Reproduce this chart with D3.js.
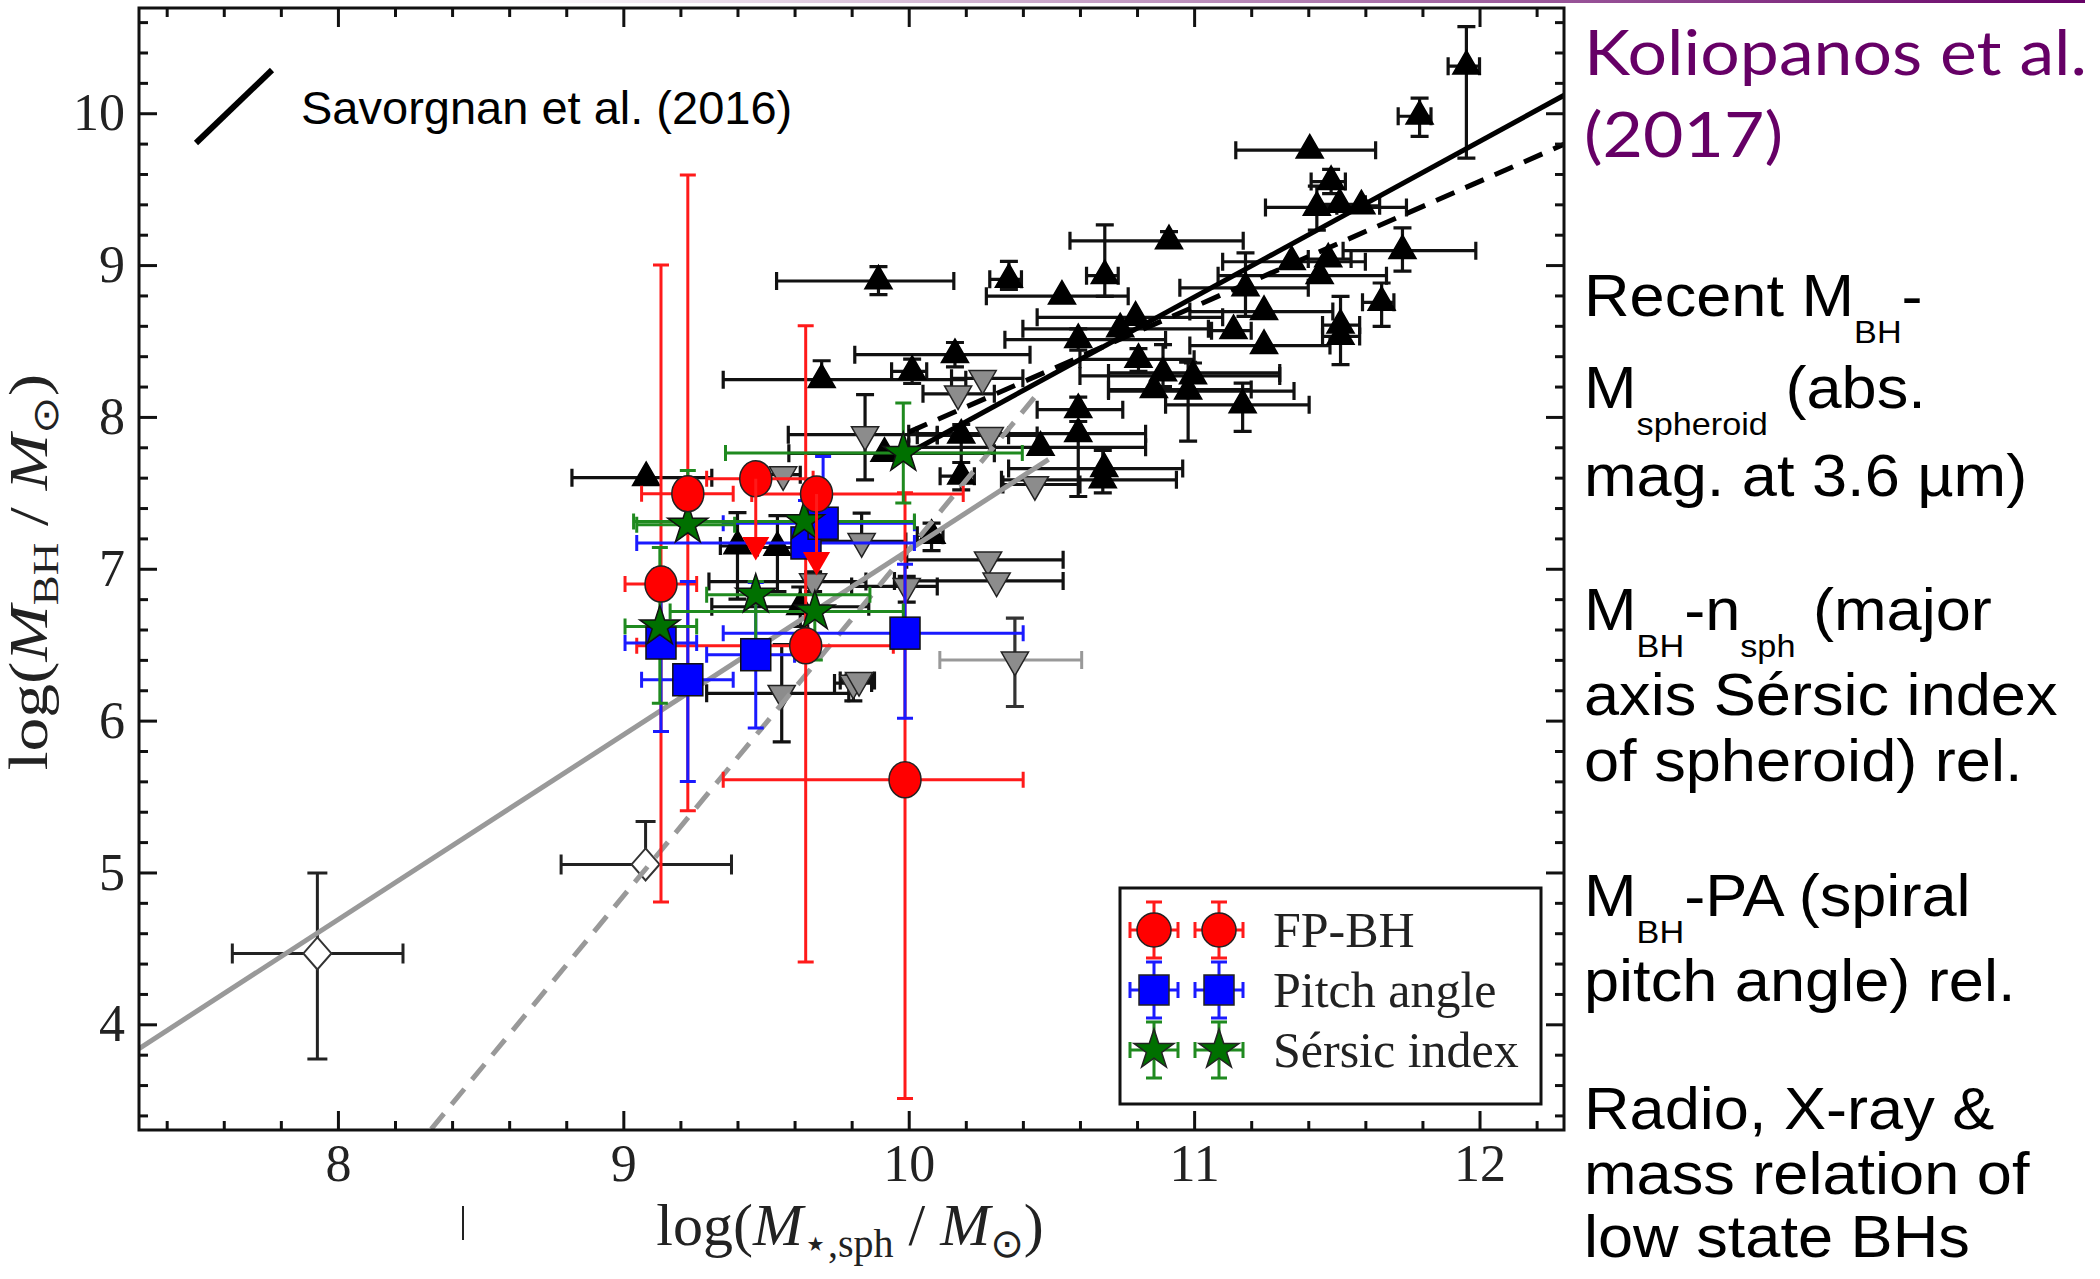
<!DOCTYPE html>
<html>
<head>
<meta charset="utf-8">
<script src="https://cdn.jsdelivr.net/npm/d3@7"></script>
<style>
body { margin: 0; background: #fff; }
svg { display: block; }
</style>
</head>
<body>
<div id="chart"></div>
<script>
// each point: [x, y, xlo, xhi, ylo, yhi]  (null = no bar on that side)
const blackTri = [
  [9.08, 7.60, 8.82, 9.31, null, null],
  [9.40, 7.15, 9.34, 9.46, 6.80, 7.37],
  [9.54, 7.14, 9.47, 9.61, 6.85, 7.35],
  [9.62, 6.75, 9.31, 9.86, 6.62, 6.88],
  [9.695, 8.245, 9.35, 10.20, null, 8.37],
  [9.894, 8.895, 9.537, 10.158, 8.805, 8.99],
  [9.915, 7.76, 9.58, 10.30, null, null],
  [10.012, 8.30, 9.94, 10.063, 8.22, 8.38],
  [10.08, 7.22, 10.03, 10.12, 7.12, 7.30],
  [10.162, 8.41, 9.811, 10.425, 8.33, 8.49],
  [10.184, 7.88, 10.03, 10.35, 7.60, 7.95],
  [10.184, 7.61, 10.11, 10.23, 7.52, 7.70],
  [10.351, 8.906, 10.284, 10.395, 8.84, 9.024],
  [10.462, 7.80, 10.00, 10.83, null, null],
  [10.537, 8.795, 10.272, 10.769, null, null],
  [10.594, 8.509, 10.337, 10.90, 8.44, 8.58],
  [10.594, 8.048, 10.45, 10.75, null, 8.13],
  [10.594, 7.89, 10.00, 10.83, 7.476, 7.97],
  [10.685, 7.66, 10.35, 10.96, null, null],
  [10.68, 7.586, 10.325, 10.938, 7.50, 7.78],
  [10.687, 8.93, 10.623, 10.734, 8.794, 9.265],
  [10.741, 8.58, 10.40, 11.05, null, null],
  [10.795, 8.656, 10.45, 11.10, null, null],
  [10.805, 8.379, 10.60, 11.00, 8.30, 8.45],
  [10.859, 8.18, 10.70, 11.20, null, null],
  [10.891, 8.29, 10.70, 11.30, 8.20, 8.476],
  [10.912, 9.16, 10.565, 11.172, null, 9.22],
  [10.979, 8.17, 10.70, 11.35, 7.84, 8.36],
  [10.996, 8.27, 10.60, 11.30, null, 8.355],
  [11.17, 8.08, 10.90, 11.403, 7.905, 8.223],
  [11.138, 8.568, 11.061, 11.20, null, null],
  [11.18, 8.85, 10.95, 11.40, 8.662, 9.08],
  [11.245, 8.694, 10.985, 11.486, null, null],
  [11.245, 8.47, 10.985, 11.476, null, null],
  [11.342, 9.022, 11.10, 11.60, null, null],
  [11.405, 9.757, 11.146, 11.636, null, null],
  [11.44, 8.93, 11.084, 11.674, null, null],
  [11.43, 9.38, 11.25, 11.744, 9.23, 9.52],
  [11.48, 9.55, 11.41, 11.53, 9.47, 9.63],
  [11.47, 9.04, 11.40, 11.55, null, null],
  [11.513, 8.605, 11.45, 11.58, null, 8.794],
  [11.513, 8.53, 11.45, 11.58, 8.344, null],
  [11.51, 9.40, 11.43, 11.60, null, null],
  [11.586, 9.39, 11.50, 11.65, null, null],
  [11.657, 8.755, 11.59, 11.70, 8.596, 8.882],
  [11.73, 9.095, 11.522, 11.987, 8.96, 9.245],
  [11.79, 9.98, 11.715, 11.83, 9.848, 10.10],
  [11.954, 10.31, 11.89, 12.00, 9.705, 10.57]
];

const greyTri = [
  [9.56, 7.62, 9.50, 9.62, null, null],
  [9.665, 6.916, 9.30, 9.85, 6.85, 6.98],
  [9.555, 6.18, 9.292, 9.79, 5.86, 6.50],
  [9.806, 6.247, 9.74, 9.87, 6.13, 6.30],
  [9.826, 6.265, 9.76, 9.88, null, null],
  [9.835, 7.18, 9.68, 9.99, null, 7.367],
  [9.847, 7.883, 9.578, 10.10, 7.585, 8.147],
  [9.993, 6.884, 9.80, 10.10, 6.78, 6.95],
  [10.173, 8.152, 10.05, 10.30, null, null],
  [10.259, 8.254, 10.15, 10.40, null, null],
  [10.284, 7.878, 10.10, 10.45, null, null],
  [10.278, 7.059, 9.993, 10.541, null, null],
  [10.308, 6.92, 9.95, 10.541, null, null],
  [10.442, 7.555, 10.33, 10.60, null, null]
];
// grey triangle drawn with a faint horizontal bar
const greyTriFaint = [
  [10.372, 6.40, 10.109, 10.606, 6.093, 6.675]
];

const redCircles = [
  [9.132, 6.899, 9.006, 9.257, 4.806, 9.0],
  [9.226, 7.494, 9.064, 9.385, 5.406, 9.593],
  [9.464, 7.593, 9.292, 9.665, null, null],
  [9.677, 7.492, 9.45, 10.191, null, null],
  [9.639, 6.493, 9.047, 9.946, 4.411, 8.60],
  [9.987, 5.61, 9.35, 10.401, 3.511, 7.50]
];
// [x, y of circle, y of arrow head]
const redArrows = [
  [9.464, 7.593, 7.158],
  [9.677, 7.492, 7.059]
];

const blueSquares = [
  [9.132, 6.511, 9.006, 9.257, 5.928, 7.0],
  [9.226, 6.269, 9.064, 9.385, 5.599, 6.917],
  [9.464, 6.434, 9.292, 9.60, 5.951, 6.91],
  [9.64, 7.17, 9.047, 10.02, null, 7.45],
  [9.70, 7.30, 9.35, 10.02, null, 7.74],
  [9.987, 6.576, 9.35, 10.401, 6.016, 7.03]
];

const greenStars = [
  [9.128, 6.62, 9.006, 9.257, 6.115, 7.14],
  [9.226, 7.29, 9.047, 9.39, null, 7.648],
  [9.464, 6.829, 9.292, 9.864, 6.379, 6.917],
  [9.634, 7.312, 9.036, 10.02, null, null],
  [9.671, 6.719, 9.164, 9.981, 6.40, null],
  [9.981, 7.762, 9.358, 10.398, 7.433, 8.091]
];

const whiteDiamonds = [
  [7.928, 4.467, 7.63, 8.228, 3.772, 4.997],
  [9.078, 5.053, 8.782, 9.379, null, 5.335]
];

// fitted relations, [x, y] end points
const blackSolid = [[9.986, 7.748], [12.296, 10.118]];
const blackDashed = [[10.0, 7.90], [12.296, 9.795]];
const greySolid = [[7.303, 3.84], [10.49, 7.72]];
const greyDashed = [[8.327, 3.31], [10.45, 8.15]];

const xMajor = [8, 9, 10, 11, 12];
const yMajor = [4, 5, 6, 7, 8, 9, 10];
const legendLabels = ["FP-BH", "Pitch angle", "Sérsic index"];

const W = 2100, H = 1279;
const svg = d3.select("#chart").append("svg").attr("width", W).attr("height", H);

const x = d3.scaleLinear().domain([7.303, 12.296]).range([139, 1564]);
const y = d3.scaleLinear().domain([3.304, 10.693]).range([1130, 8]);

// thin purple slide rule at the top
const defs = svg.append("defs");
const grad = defs.append("linearGradient").attr("id", "topline");
grad.append("stop").attr("offset", "0").attr("stop-color", "#660066").attr("stop-opacity", 0);
grad.append("stop").attr("offset", "1").attr("stop-color", "#660066").attr("stop-opacity", 1);
svg.append("rect").attr("x", 500).attr("y", 0).attr("width", 1585).attr("height", 3).attr("fill", "url(#topline)");

defs.append("clipPath").attr("id", "plotclip")
  .append("rect").attr("x", 139).attr("y", 8).attr("width", 1425).attr("height", 1122);

const plot = svg.append("g").attr("clip-path", "url(#plotclip)");

// error bar path, caps on each end
function barPath(d, cap) {
  const cx = x(d[0]), cy = y(d[1]);
  let p = "";
  if (d[2] != null) p += `M${cx},${cy}H${x(d[2])}M${x(d[2])},${cy - cap}V${cy + cap}`;
  if (d[3] != null) p += `M${cx},${cy}H${x(d[3])}M${x(d[3])},${cy - cap}V${cy + cap}`;
  if (d[4] != null) p += `M${cx},${cy}V${y(d[4])}M${cx - cap},${y(d[4])}H${cx + cap}`;
  if (d[5] != null) p += `M${cx},${cy}V${y(d[5])}M${cx - cap},${y(d[5])}H${cx + cap}`;
  return p;
}
function hPath(d, cap) {
  const cy = y(d[1]);
  return `M${x(d[2])},${cy}H${x(d[3])}M${x(d[2])},${cy - cap}V${cy + cap}M${x(d[3])},${cy - cap}V${cy + cap}`;
}
function vPath(d, cap) {
  const cx = x(d[0]);
  return `M${cx},${y(d[4])}V${y(d[5])}M${cx - cap},${y(d[4])}H${cx + cap}M${cx - cap},${y(d[5])}H${cx + cap}`;
}

const triUp = d3.symbol().type(d3.symbolTriangle).size(320)();
const star = d3.symbol().type(d3.symbolStar).size(500)();
const line = d3.line().x(d => x(d[0])).y(d => y(d[1]));

// black and grey sample: bars first, then markers
plot.append("g").selectAll("path").data(blackTri.concat(greyTri)).join("path")
  .attr("d", d => barPath(d, 9)).attr("fill", "none").attr("stroke", "#111").attr("stroke-width", 3.2);
plot.append("g").selectAll("path").data(greyTriFaint).join("path")
  .attr("d", d => hPath(d, 9)).attr("fill", "none").attr("stroke", "#999").attr("stroke-width", 3);
plot.append("g").selectAll("path").data(greyTriFaint).join("path")
  .attr("d", d => vPath(d, 9)).attr("fill", "none").attr("stroke", "#333").attr("stroke-width", 3.2);
plot.append("g").selectAll("path").data(whiteDiamonds).join("path")
  .attr("d", d => barPath(d, 10)).attr("fill", "none").attr("stroke", "#222").attr("stroke-width", 3);

plot.append("g").selectAll("path").data(blackTri).join("path")
  .attr("transform", d => `translate(${x(d[0])},${y(d[1])})`)
  .attr("d", triUp).attr("fill", "#000").attr("stroke", "#000").attr("stroke-width", 1.5);
plot.append("g").selectAll("path").data(greyTri.concat(greyTriFaint)).join("path")
  .attr("transform", d => `translate(${x(d[0])},${y(d[1])}) rotate(180)`)
  .attr("d", triUp).attr("fill", "#8c8c8c").attr("stroke", "#222").attr("stroke-width", 1.5);
plot.append("g").selectAll("path").data(whiteDiamonds).join("path")
  .attr("transform", d => `translate(${x(d[0])},${y(d[1])})`)
  .attr("d", "M0,-16L14,0L0,16L-14,0Z").attr("fill", "#fff").attr("stroke", "#333").attr("stroke-width", 2);

// relations
plot.append("path").datum(greySolid).attr("d", line)
  .attr("stroke", "#999").attr("stroke-width", 5).attr("fill", "none");
plot.append("path").datum(greyDashed).attr("d", line)
  .attr("stroke", "#999").attr("stroke-width", 5).attr("stroke-dasharray", "20,12").attr("fill", "none");
plot.append("path").datum(blackDashed).attr("d", line)
  .attr("stroke", "#000").attr("stroke-width", 5).attr("stroke-dasharray", "20,12").attr("fill", "none");
plot.append("path").datum(blackSolid).attr("d", line)
  .attr("stroke", "#000").attr("stroke-width", 5).attr("fill", "none");

// coloured samples
plot.append("g").selectAll("path").data(redCircles).join("path")
  .attr("d", d => barPath(d, 8)).attr("fill", "none").attr("stroke", "#ff1a1a").attr("stroke-width", 3);
plot.append("g").selectAll("path").data(blueSquares).join("path")
  .attr("d", d => barPath(d, 8)).attr("fill", "none").attr("stroke", "#1a1aff").attr("stroke-width", 3);
plot.append("g").selectAll("path").data(greenStars).join("path")
  .attr("d", d => barPath(d, 8)).attr("fill", "none").attr("stroke", "#1f8a1f").attr("stroke-width", 3);

plot.append("g").selectAll("rect").data(blueSquares).join("rect")
  .attr("x", d => x(d[0]) - 15).attr("y", d => y(d[1]) - 16).attr("width", 30).attr("height", 32)
  .attr("fill", "#0000ff").attr("stroke", "#111").attr("stroke-width", 1.5);
plot.append("g").selectAll("path").data(greenStars).join("path")
  .attr("transform", d => `translate(${x(d[0])},${y(d[1])})`)
  .attr("d", star).attr("fill", "#007000").attr("stroke", "#111").attr("stroke-width", 1.5);
plot.append("g").selectAll("ellipse").data(redCircles).join("ellipse")
  .attr("cx", d => x(d[0])).attr("cy", d => y(d[1])).attr("rx", 16).attr("ry", 18)
  .attr("fill", "#ff0000").attr("stroke", "#222").attr("stroke-width", 1.5);
plot.append("g").selectAll("path").data(redArrows).join("path")
  .attr("d", d => `M${x(d[0])},${y(d[1])}V${y(d[2])}`).attr("stroke", "#ff1a1a").attr("stroke-width", 3);
plot.append("g").selectAll("path").data(redArrows).join("path")
  .attr("transform", d => `translate(${x(d[0])},${y(d[2])}) rotate(180)`)
  .attr("d", triUp).attr("fill", "#ff0000").attr("stroke", "none");

// axes: frame plus inward ticks on all sides
const xMinor = d3.range(7.4, 12.3, 0.2).filter(v => Math.abs(v - Math.round(v)) > 0.01);
const yMinor = d3.range(3.4, 10.7, 0.2).filter(v => Math.abs(v - Math.round(v)) > 0.01);
const tickFont = "'Liberation Serif', 'Times New Roman', serif";

function styleAxis(g) {
  g.select(".domain").remove();
  g.selectAll(".tick line").attr("stroke", "#111").attr("stroke-width", 3);
  g.selectAll("text").attr("font-family", tickFont).attr("font-size", 52).attr("fill", "#222");
}
svg.append("g").attr("transform", "translate(0,1130)")
  .call(d3.axisBottom(x).tickValues(xMajor).tickSize(-19).tickPadding(14).tickFormat(d3.format("d"))).call(styleAxis);
svg.append("g").attr("transform", "translate(0,1130)")
  .call(d3.axisBottom(x).tickValues(xMinor).tickSize(-9).tickFormat("")).call(styleAxis);
svg.append("g").attr("transform", "translate(0,8)")
  .call(d3.axisTop(x).tickValues(xMajor).tickSize(-19).tickFormat("")).call(styleAxis);
svg.append("g").attr("transform", "translate(0,8)")
  .call(d3.axisTop(x).tickValues(xMinor).tickSize(-9).tickFormat("")).call(styleAxis);
svg.append("g").attr("transform", "translate(139,0)")
  .call(d3.axisLeft(y).tickValues(yMajor).tickSize(-18).tickPadding(14).tickFormat(d3.format("d"))).call(styleAxis);
svg.append("g").attr("transform", "translate(139,0)")
  .call(d3.axisLeft(y).tickValues(yMinor).tickSize(-9).tickFormat("")).call(styleAxis);
svg.append("g").attr("transform", "translate(1564,0)")
  .call(d3.axisRight(y).tickValues(yMajor).tickSize(-18).tickFormat("")).call(styleAxis);
svg.append("g").attr("transform", "translate(1564,0)")
  .call(d3.axisRight(y).tickValues(yMinor).tickSize(-9).tickFormat("")).call(styleAxis);

svg.append("rect").attr("x", 139).attr("y", 8).attr("width", 1425).attr("height", 1122)
  .attr("fill", "none").attr("stroke", "#111").attr("stroke-width", 3);

// axis titles
const xt = svg.append("text").attr("x", 850).attr("y", 1245).attr("text-anchor", "middle")
  .attr("font-family", tickFont).attr("font-size", 60).attr("fill", "#222");
xt.append("tspan").text("log(");
xt.append("tspan").attr("font-style", "italic").text("M");
xt.append("tspan").attr("font-size", 40).attr("dy", 12).text("\u22c6,sph");
xt.append("tspan").attr("dy", -12).text(" / ");
xt.append("tspan").attr("font-style", "italic").text("M");
xt.append("tspan").attr("font-size", 40).attr("dy", 12).attr("font-family", "'DejaVu Sans', sans-serif").text("\u2299");
xt.append("tspan").attr("dy", -12).text(")");

const yt = svg.append("text").attr("transform", "translate(47,572) rotate(-90) scale(1.25,1)").attr("text-anchor", "middle")
  .attr("font-family", tickFont).attr("font-size", 54).attr("fill", "#222");
yt.append("tspan").text("log(");
yt.append("tspan").attr("font-style", "italic").text("M");
yt.append("tspan").attr("font-size", 36).attr("dy", 11).text("BH");
yt.append("tspan").attr("dy", -11).text(" / ");
yt.append("tspan").attr("font-style", "italic").text("M");
yt.append("tspan").attr("font-size", 36).attr("dy", 11).attr("font-family", "'DejaVu Sans', sans-serif").text("\u2299");
yt.append("tspan").attr("dy", -11).text(")");

// stray mark under the axis
svg.append("line").attr("x1", 463).attr("x2", 463).attr("y1", 1206).attr("y2", 1240)
  .attr("stroke", "#222").attr("stroke-width", 2);

// Savorgnan key
svg.append("line").attr("x1", 196).attr("y1", 143).attr("x2", 272).attr("y2", 70)
  .attr("stroke", "#000").attr("stroke-width", 6);
svg.append("text").attr("x", 301).attr("y", 124).attr("font-family", "'Liberation Sans', Arial, sans-serif")
  .attr("font-size", 47).attr("fill", "#000").text("Savorgnan et al. (2016)");

// legend box
const leg = svg.append("g");
leg.append("rect").attr("x", 1120).attr("y", 888).attr("width", 421).attr("height", 216)
  .attr("fill", "#fff").attr("stroke", "#111").attr("stroke-width", 3);
const legColors = [["#ff1a1a", "#ff0000"], ["#1a1aff", "#0000ff"], ["#1f8a1f", "#007000"]];
legendLabels.forEach((lab, i) => {
  const cy = 930 + i * 60;
  [1154, 1219].forEach(cx => {
    leg.append("path")
      .attr("d", `M${cx - 24},${cy}H${cx + 24}M${cx - 24},${cy - 8}V${cy + 8}M${cx + 24},${cy - 8}V${cy + 8}` +
        `M${cx},${cy - 28}V${cy + 28}M${cx - 8},${cy - 28}H${cx + 8}M${cx - 8},${cy + 28}H${cx + 8}`)
      .attr("stroke", legColors[i][0]).attr("stroke-width", 3).attr("fill", "none");
    if (i === 0) {
      leg.append("ellipse").attr("cx", cx).attr("cy", cy).attr("rx", 17).attr("ry", 17)
        .attr("fill", legColors[i][1]).attr("stroke", "#222").attr("stroke-width", 1.5);
    } else if (i === 1) {
      leg.append("rect").attr("x", cx - 15).attr("y", cy - 15).attr("width", 30).attr("height", 30)
        .attr("fill", legColors[i][1]).attr("stroke", "#222").attr("stroke-width", 1.5);
    } else {
      leg.append("path").attr("transform", `translate(${cx},${cy})`).attr("d", star)
        .attr("fill", legColors[i][1]).attr("stroke", "#222").attr("stroke-width", 1.5);
    }
  });
  leg.append("text").attr("x", 1273).attr("y", cy + 17).attr("font-family", tickFont)
    .attr("font-size", 50).attr("fill", "#222").text(lab);
});

// right-hand slide text
const head = svg.append("g").attr("transform", "translate(1584,0) scale(1.125,1)")
  .attr("font-family", "Lato, 'Noto Sans', sans-serif").attr("font-size", 62).attr("fill", "#660066");
head.append("text").attr("x", 0).attr("y", 75).text("Koliopanos et al.");
head.append("text").attr("x", 0).attr("y", 157).text("(2017)");

const sideLines = [
  [316, [["Recent M"], ["BH", 1], ["-"]]],
  [408, [["M"], ["spheroid", 1], [" (abs."]]],
  [496, [["mag. at 3.6 \u00b5m)"]]],
  [630, [["M"], ["BH", 1], ["-n"], ["sph", 1], [" (major"]]],
  [715, [["axis Sérsic index"]]],
  [781, [["of spheroid) rel."]]],
  [916, [["M"], ["BH", 1], ["-PA (spiral"]]],
  [1001, [["pitch angle) rel."]]],
  [1129, [["Radio, X-ray &"]]],
  [1194, [["mass relation of"]]],
  [1257, [["low state BHs"]]]
];
const side = svg.append("g").attr("transform", "translate(1584,0) scale(1.07,1)");
sideLines.forEach(([by, parts]) => {
  const t = side.append("text").attr("x", 0).attr("y", by)
    .attr("font-family", "'Liberation Sans', Arial, sans-serif").attr("font-size", 59).attr("fill", "#000");
  let shifted = false;
  parts.forEach(p => {
    const s = t.append("tspan").text(p[0]);
    if (p[1]) { s.attr("font-size", 32).attr("dy", shifted ? 0 : 27); shifted = true; }
    else if (shifted) { s.attr("dy", -27); shifted = false; }
  });
});
</script>
</body>
</html>
